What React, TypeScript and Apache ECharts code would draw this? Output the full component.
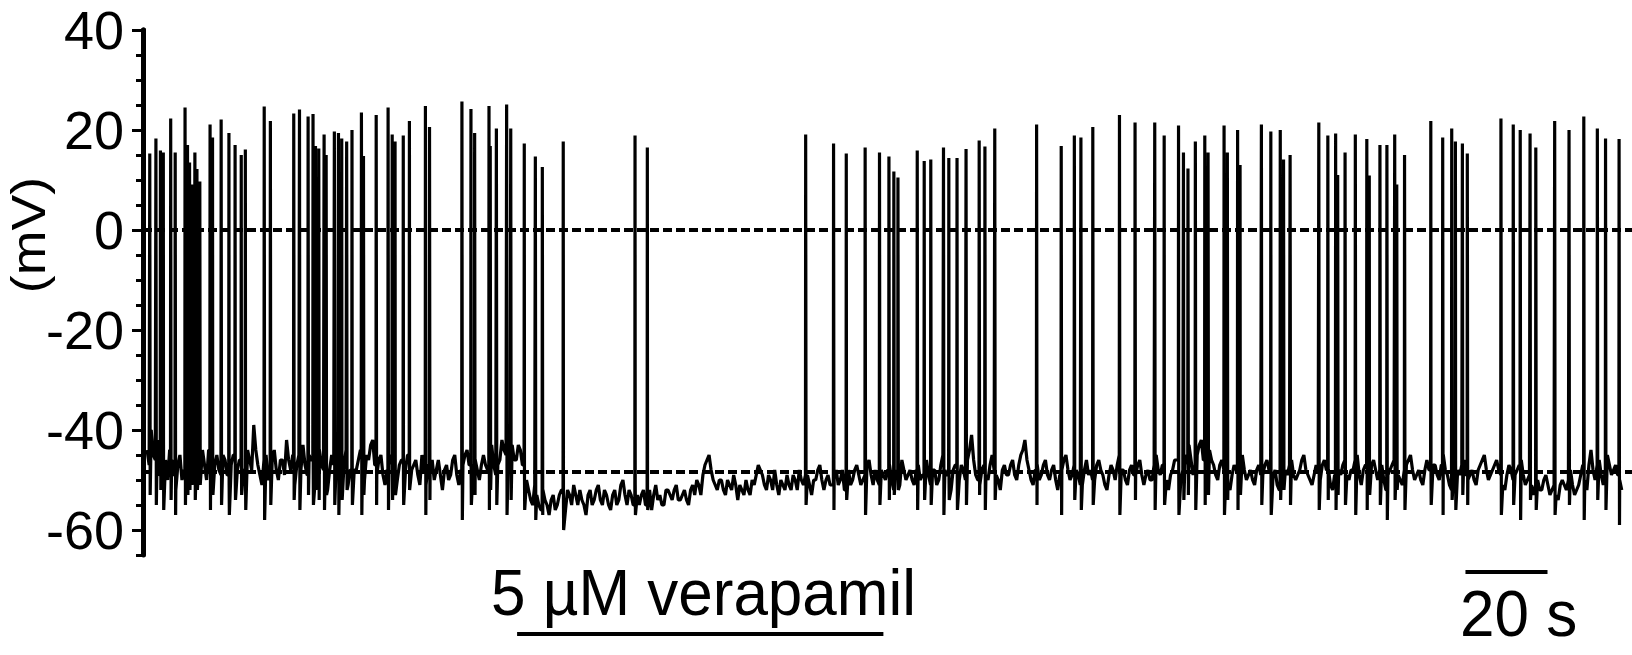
import React, { useEffect, useRef } from "react";
import * as echarts from "echarts";

// Membrane potential recording (mV): samples at whole seconds, t = 1, 2, ... 360 s
const baselineStart = 1;
const baseline = [
  -44, -40, -46, -49, -43, -50, -46, -52, -45, -48,
  -43, -50, -46, -51, -47, -44, -50, -45, -49, -46,
  -51, -45, -48, -44, -50, -46, -39, -47, -51, -45,
  -49, -44, -50, -46, -42, -48, -51, -45, -43, -49,
  -46, -50, -44, -48, -52, -45, -49, -43, -47, -51,
  -45, -48, -44, -50, -46, -42, -49, -45, -51, -47,
  -44, -50, -46, -48, -52, -47, -49, -45, -51, -48,
  -50, -46, -52, -47, -49, -45, -51, -47, -44, -49,
  -46, -50, -45, -48, -43, -49, -46, -44, -47, -43,
  -46, -44, -49, -52, -55, -53, -56, -54, -57, -53,
  -55, -52, -56, -53, -51, -55, -54, -57, -52, -54,
  -51, -55, -53, -56, -52, -54, -50, -55, -53, -51,
  -55, -52, -54, -56, -51, -53, -55, -52, -54, -51,
  -54, -52, -55, -51, -50, -53, -47, -45, -50, -52,
  -50, -53, -51, -49, -54, -52, -50, -53, -51, -47,
  -49, -52, -50, -48, -53, -51, -49, -52, -50, -48,
  -51, -49, -53, -50, -47, -52, -49, -51, -48, -50,
  -52, -48, -50, -47, -51, -49, -46, -51, -50, -48,
  -50, -47, -52, -49, -46, -50, -48, -51, -47, -49,
  -46, -51, -48, -50, -45, -49, -52, -47, -50, -48,
  -46, -41, -49, -51, -47, -50, -45, -49, -52, -47,
  -49, -46, -50, -45, -42, -48, -51, -47, -49, -46,
  -50, -47, -52, -48, -45, -50, -47, -49, -51, -46,
  -48, -50, -46, -49, -52, -47, -50, -45, -48, -51,
  -47, -49, -46, -51, -48, -50, -45, -49, -47, -52,
  -48, -46, -50, -47, -43, -49, -45, -42, -48, -44,
  -47, -50, -46, -49, -52, -47, -49, -45, -50, -48,
  -51, -47, -49, -46, -50, -48, -52, -47, -49, -46,
  -50, -48, -45, -49, -51, -47, -50, -46, -48, -52,
  -47, -49, -46, -50, -48, -45, -51, -47, -49, -46,
  -50, -47, -52, -48, -46, -49, -51, -47, -45, -50,
  -48, -51, -46, -49, -47, -50, -45, -49, -52, -47,
  -49, -46, -50, -48, -51, -47, -45, -50, -48, -46,
  -49, -52, -47, -50, -48, -46, -51, -49, -53, -50,
  -52, -49, -53, -51, -54, -50, -52, -48, -53, -51,
  -47, -52, -44, -50, -46, -51, -45, -49, -47, -50,
];
// Samples at half seconds, t = 1.5, 2.5, ... 360.5 s
const baselineHalf = [
  -47, -45, -42, -47, -46, -44, -49, -47, -50, -44,
  -48, -45, -49, -44, -50, -47, -47, -48, -45, -49,
  -47, -50, -46, -48, -44, -48, -44, -49, -46, -50,
  -46, -48, -46, -49, -46, -45, -47, -48, -47, -45,
  -48, -46, -47, -45, -48, -47, -46, -47, -44, -48,
  -48, -46, -47, -45, -43, -47, -46, -49, -48, -45,
  -48, -47, -50, -45, -48, -46, -51, -48, -47, -46,
  -48, -49, -48, -50, -46, -49, -48, -45, -47, -47,
  -48, -47, -47, -45, -47, -47, -42, -45, -44, -46,
  -43, -47, -50, -54, -51, -55, -52, -55, -54, -56,
  -53, -54, -52, -55, -53, -52, -55, -53, -55, -52,
  -54, -52, -55, -53, -55, -51, -53, -52, -55, -53,
  -53, -55, -52, -53, -54, -55, -52, -53, -52, -54,
  -53, -54, -52, -53, -51, -49, -46, -48, -51, -50,
  -52, -50, -52, -51, -51, -53, -52, -50, -49, -48,
  -51, -49, -52, -51, -50, -52, -51, -49, -52, -50,
  -49, -51, -50, -48, -50, -50, -51, -49, -51, -48,
  -50, -51, -48, -49, -50, -47, -49, -48, -51, -49,
  -48, -50, -48, -51, -48, -49, -50, -48, -50, -47,
  -49, -48, -51, -47, -48, -50, -48, -49, -47, -50,
  -44, -46, -50, -48, -49, -47, -48, -50, -48, -49,
  -47, -49, -47, -44, -46, -50, -48, -50, -47, -49,
  -48, -50, -49, -46, -48, -49, -48, -51, -48, -49,
  -50, -47, -48, -51, -49, -48, -47, -48, -50, -48,
  -49, -47, -49, -49, -50, -47, -48, -47, -50, -49,
  -46, -49, -48, -45, -46, -47, -43, -46, -45, -46,
  -49, -47, -48, -51, -49, -48, -46, -48, -49, -50,
  -48, -49, -47, -48, -49, -51, -49, -48, -47, -49,
  -49, -46, -48, -50, -49, -48, -47, -48, -51, -49,
  -48, -47, -49, -48, -46, -49, -48, -49, -47, -48,
  -48, -50, -49, -47, -48, -50, -48, -46, -48, -49,
  -50, -48, -48, -47, -49, -47, -48, -51, -49, -48,
  -47, -49, -49, -50, -48, -46, -48, -49, -47, -48,
  -51, -49, -48, -49, -47, -49, -50, -51, -51, -52,
  -50, -51, -52, -53, -51, -51, -50, -51, -52, -49,
  -50, -47, -48, -47, -49, -48, -47, -48, -49, -52,
];

// Action potentials: time (s), peak (mV), after-hyperpolarisation trough (mV)
const spikeTimes = [
  1.6, 3.1, 4.2, 4.9, 6.7, 7.8, 10.2, 10.8, 11.3, 11.8, 12.6, 13.1, 13.8,
  16.3, 16.9, 19.0, 20.9, 22.4, 23.9, 24.9, 29.5, 31.0,
  36.7, 38.1, 40.2, 41.4, 42.0, 42.8, 44.1, 44.6, 46.6, 47.6, 48.4, 49.6, 50.9,
  53.2, 53.7, 56.8, 59.7, 60.7, 61.4, 63.4, 64.9, 68.8, 69.8,
  77.7, 79.9, 80.8, 84.3, 84.6, 86.1, 88.6, 89.6,
  92.9, 95.6, 97.3, 102.4, 119.9, 122.9,
  161.5, 168.3, 171.4, 176.0, 179.5, 181.8, 183.0, 184.0, 188.7, 190.4, 192.0, 195.1, 196.4, 198.4, 200.6, 203.8, 205.2, 207.6,
  217.8, 223.8, 227.0, 228.6, 231.5, 238.0, 241.8, 246.6, 248.9, 252.4, 253.6, 254.7, 256.5, 258.8, 259.6, 263.5, 264.3, 266.8, 267.4, 272.6, 274.9, 277.2, 278.0, 279.6, 286.6, 288.8,
  290.7, 291.2, 293.0, 295.5, 298.3, 298.9, 301.5, 303.2, 305.1, 305.6, 307.5, 313.9, 316.8, 319.0, 319.9, 321.6, 322.8, 331.0, 334.0, 335.7, 338.1, 339.5, 344.1, 347.6, 351.2, 354.5, 356.5, 359.8,
];
const spikePeaks = [
  15.3, 18.3, 15.9, 15.5, 22.3, 15.5, 24.5, 17, 13.5, 9.1, 15.5, 12.2, 9.7,
  21.1, 18.5, 22.1, 19.4, 17, 15, 16.1, 24.7, 21.8,
  23.3, 24.1, 22.7, 23.2, 16.8, 16.3, 19.1, 15, 19.7, 19.4, 18.3, 17.7, 20,
  23.5, 14.8, 23, 24.5, 19.1, 17.7, 18.9, 21.8, 24.8, 20.6,
  25.7, 24.2, 19.4, 24.8, 16.8, 20.3, 25.1, 20.3,
  17.3, 14.7, 12.6, 17.7, 18.9, 16.5,
  19.1, 17.3, 15.3, 16.5, 15.5, 14.7, 11.7, 10.5, 15.9, 13.8, 14.1, 16.5, 14.4, 14.4, 16.2, 17.9, 16.7, 20.3,
  21.1, 16.8, 18.9, 18.5, 20.6, 23, 21.5, 21.5, 18.9, 20.9, 15.5, 12.3, 17.7, 18.9, 15.5, 20.9, 15.5, 20, 13, 21.1, 19.7, 20, 14.1, 15, 21.5, 18.9,
  19.3, 11, 15.5, 19.1, 18.2, 10.9, 17, 17, 19.1, 9.1, 15, 21.8, 18.5, 20.3, 17.7, 17.3, 15.3, 22.3, 21.1, 20, 19.3, 16.5, 21.8, 20, 22.7, 20.3, 18.3, 18.2,
];
const spikeTroughs = [
  -53, -55, -52, -56, -54, -57, -55, -53, -52, -51, -54, -52, -51,
  -56, -53, -55, -57, -54, -53, -56, -58, -55,
  -54, -56, -53, -55, -52, -54, -56, -53, -55, -57, -54, -52, -55,
  -57, -53, -55, -56, -54, -53, -55, -52, -57, -54,
  -58, -55, -53, -56, -52, -55, -57, -54,
  -56, -58, -57, -60, -57, -56,
  -55, -56, -54, -57, -55, -54, -53, -52, -56, -54, -55, -57, -54, -56, -55, -53, -56, -54,
  -55, -57, -54, -56, -55, -57, -54, -56, -55, -57, -54, -53, -56, -55, -53, -57, -54, -56, -53, -55, -57, -54, -52, -55, -56, -54,
  -56, -53, -55, -57, -56, -53, -55, -58, -54, -52, -56, -55, -57, -54, -56, -53, -55, -57, -55, -58, -54, -56, -57, -55, -58, -54, -56, -59,
];

// Dashed reference levels (mV)
const referenceLevels = [0, -48.3];
// Drug application period (s) and 20 s time scale bar (s)
const drugPeriod = [91.2, 180.5];
const drugLabel = "5 µM verapamil";
const scaleBar = [322.4, 342.4];
const scaleLabel = "20 s";
const yUnit = "(mV)";

const FONT = '"Liberation Sans", Arial, Helvetica, sans-serif';

function buildTrace(): [number, number][] {
  const pts: [number, number][] = [];
  baseline.forEach((v, i) => {
    pts.push([baselineStart + i, v]);
    if (i < baselineHalf.length) pts.push([baselineStart + i + 0.5, baselineHalf[i]]);
  });
  spikeTimes.forEach((t, i) => {
    const idx = Math.max(0, Math.min(baseline.length - 1, Math.floor(t) - baselineStart));
    const frac = t - Math.floor(t);
    const b = t >= baselineStart && frac >= 0.5 ? baselineHalf[idx] : baseline[idx];
    pts.push([t, b], [t + 0.05, spikePeaks[i]], [t + 0.15, spikeTroughs[i] ?? -55]);
  });
  pts.sort((a, b) => a[0] - b[0]);
  return pts;
}

export default function App() {
  const ref = useRef<HTMLDivElement>(null);
  useEffect(() => {
    document.body.style.margin = "0";
    const el = ref.current;
    if (!el) return;
    const chart = echarts.init(el, undefined, { renderer: "svg" });
    const axisLineStyle = { color: "#000", width: 5 };
    chart.setOption({
      animation: false,
      backgroundColor: "#fff",
      grid: [
        { left: 143, right: 0, top: 30, bottom: 100 },
        { left: 143, right: 0, top: 30, bottom: 125 },
      ],
      xAxis: [
        { type: "value", gridIndex: 0, min: 0, max: 363, show: false },
        { type: "value", gridIndex: 1, min: 0, max: 363, show: false },
      ],
      yAxis: [
        {
          type: "value", gridIndex: 0, min: -65, max: 40, interval: 5, offset: 7,
          axisLine: { show: true, lineStyle: axisLineStyle },
          axisTick: { show: true, length: 7, lineStyle: { color: "#000", width: 3 } },
          axisLabel: { show: false },
          splitLine: { show: false },
        },
        {
          type: "value", gridIndex: 1, min: -60, max: 40, interval: 20, offset: 7,
          axisLine: { show: true, lineStyle: axisLineStyle },
          axisTick: { show: true, length: 11, lineStyle: { color: "#000", width: 3 } },
          axisLabel: { show: true, fontSize: 54, fontFamily: FONT, color: "#000", margin: 12 },
          splitLine: { show: false },
        },
      ],
      series: [
        {
          type: "line",
          xAxisIndex: 0,
          yAxisIndex: 0,
          data: buildTrace(),
          symbol: "none",
          showSymbol: false,
          lineStyle: { color: "#000", width: 3.2 },
          silent: true,
          markLine: {
            silent: true,
            symbol: ["none", "none"],
            label: { show: false },
            lineStyle: { color: "#000", width: 4, type: [9, 4] },
            data: referenceLevels.map((v) => ({ yAxis: v })),
          },
        },
      ],
    });
    const px = (t: number) => chart.convertToPixel({ xAxisIndex: 0 }, t) as number;
    const d0 = px(drugPeriod[0]);
    const d1 = px(drugPeriod[1]);
    const s0 = px(scaleBar[0]);
    const s1 = px(scaleBar[1]);
    chart.setOption({
      graphic: [
        { type: "line", shape: { x1: d0, y1: 634, x2: d1, y2: 634 }, style: { stroke: "#000", lineWidth: 4 } },
        { type: "text", x: 491, y: 592, scaleY: 1.06, style: { text: drugLabel, fontSize: 62, fontFamily: FONT, fill: "#000", align: "left", verticalAlign: "middle" } },
        { type: "line", shape: { x1: s0, y1: 572, x2: s1, y2: 572 }, style: { stroke: "#000", lineWidth: 4 } },
        { type: "text", x: 1460, y: 613, scaleY: 1.06, style: { text: scaleLabel, fontSize: 62, fontFamily: FONT, fill: "#000", align: "left", verticalAlign: "middle" } },
        { type: "text", x: 29, y: 235, rotation: Math.PI / 2, scaleX: 1.12, style: { text: yUnit, fontSize: 48, fontFamily: FONT, fill: "#000", align: "center", verticalAlign: "middle" } },
      ],
    });
    return () => chart.dispose();
  }, []);
  return <div ref={ref} style={{ width: 1632, height: 655 }} />;
}
